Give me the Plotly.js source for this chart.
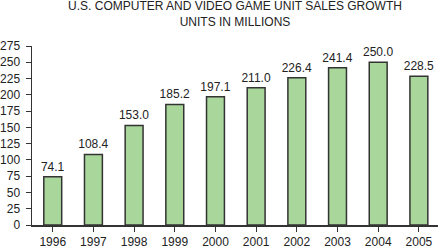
<!DOCTYPE html>
<html>
<head>
<meta charset="utf-8">
<script src="https://cdn.plot.ly/plotly-3.0.1.min.js"></script>
<style>html,body{margin:0;padding:0;background:#fff;}#chart{width:439px;height:248px;}</style>
</head>
<body>
<div id="chart"></div>
<script>
const years = ["1996","1997","1998","1999","2000","2001","2002","2003","2004","2005"];
const units = [74.1, 108.4, 153.0, 185.2, 197.1, 211.0, 226.4, 241.4, 250.0, 228.5];
const valueLabels = ["74.1","108.4","153.0","185.2","197.1","211.0","226.4","241.4","250.0","228.5"];
const yTicks = [0,25,50,75,100,125,150,175,200,225,250,275];

const font = {family: "Liberation Sans, Arial, Helvetica, sans-serif", size: 12, color: "#222"};

Plotly.newPlot("chart", [{
  type: "bar",
  x: years,
  y: units,
  text: valueLabels,
  textposition: "outside",
  constraintext: "none",
  cliponaxis: false,
  textfont: font,
  outsidetextfont: font,
  marker: {color: "#a9d69b", line: {color: "#333", width: 1.5}},
  hoverinfo: "none"
}], {
  width: 439, height: 248,
  margin: {l: 32, r: 1, t: 46, b: 23, pad: 0},
  paper_bgcolor: "#fff", plot_bgcolor: "#fff",
  font: font,
  bargap: 0.56,
  showlegend: false,
  title: {
    text: "U.S. COMPUTER AND VIDEO GAME UNIT SALES GROWTH<br>UNITS IN MILLIONS",
    font: {family: font.family, size: 12, color: "#222"},
    x: 0.5, xref: "paper", xanchor: "center",
    y: 0.992, yref: "container", yanchor: "top",
    pad: {t: 8}
  },
  xaxis: {
    type: "category",
    range: [-0.51, 9.47],
    showline: true, linecolor: "#333", linewidth: 1.5,
    ticks: "outside", ticklen: 5, tickcolor: "#333", tickwidth: 1,
    ticklabelstandoff: 0,
    showgrid: false, zeroline: false,
    tickfont: font, fixedrange: true
  },
  yaxis: {
    range: [0, 275],
    tickmode: "array", tickvals: yTicks, ticktext: yTicks.map(String),
    showline: true, linecolor: "#333", linewidth: 1.5,
    ticks: "outside", ticklen: 5, tickcolor: "#333", tickwidth: 1,
    ticklabelstandoff: 3,
    showgrid: false, zeroline: false,
    tickfont: font, fixedrange: true
  }
}, {displayModeBar: false, staticPlot: true});
</script>
</body>
</html>
